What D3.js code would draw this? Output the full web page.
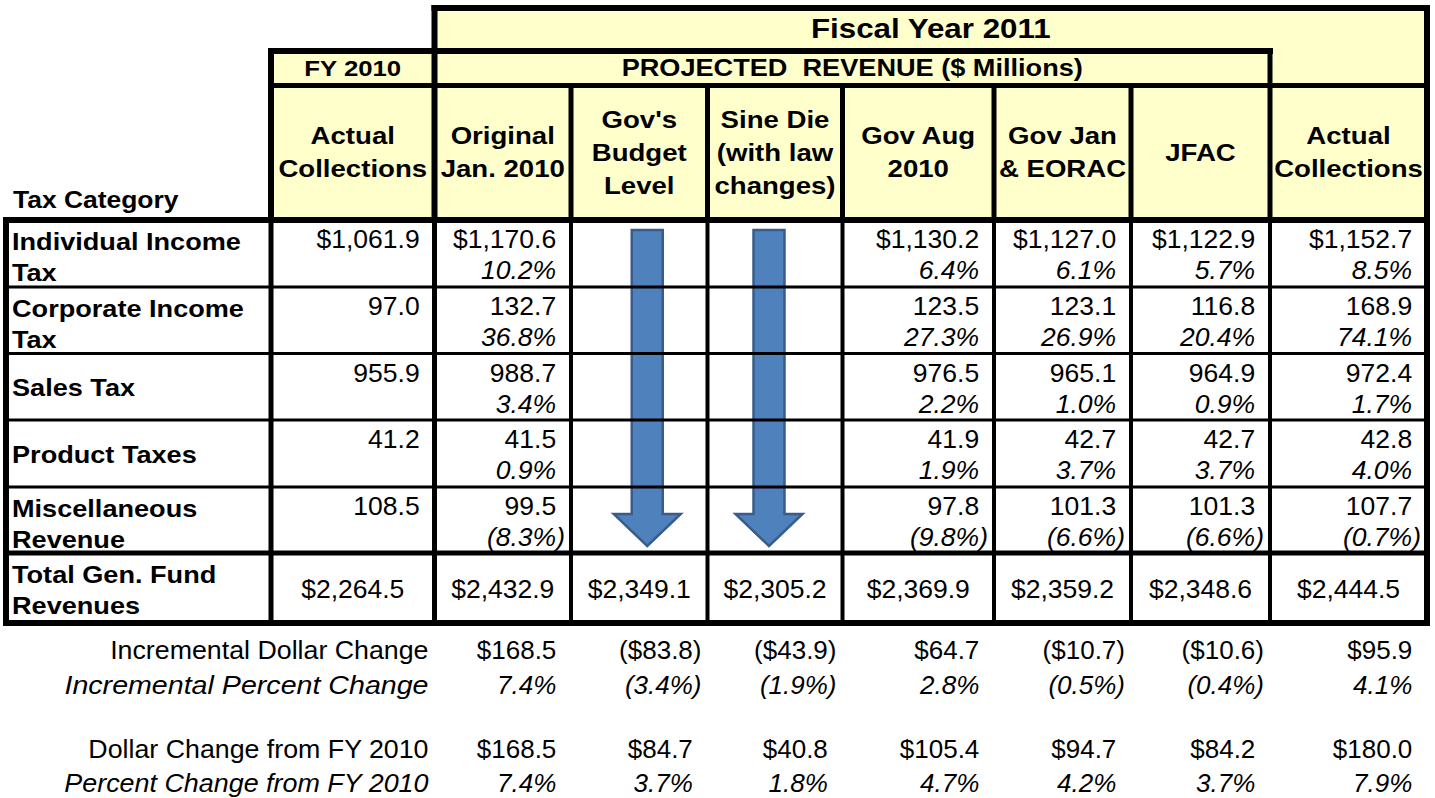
<!DOCTYPE html>
<html>
<head>
<meta charset="utf-8">
<script src="https://cdn.jsdelivr.net/npm/d3@7"></script>
<style>
  body { margin: 0; background: #fff; }
  text { font-family: "Liberation Sans", Arial, sans-serif; fill: #000; }
</style>
</head>
<body>
<div id="chart"></div>
<script>
// columns of the table
const cols = ["fy2010", "orig", "govBudget", "sineDie", "govAug", "govJan", "jfac", "actual"];
const colHeaders = [
  ["Actual", "Collections"], ["Original", "Jan. 2010"], ["Gov's", "Budget", "Level"],
  ["Sine Die", "(with law", "changes)"], ["Gov Aug", "2010"], ["Gov Jan", "& EORAC"],
  ["JFAC"], ["Actual", "Collections"]
];
const categories = [
  ["Individual Income", "Tax"], ["Corporate Income", "Tax"], ["Sales Tax"],
  ["Product Taxes"], ["Miscellaneous", "Revenue"]
];

// values ($ millions) per category
const fy2010Actual = [1061.9, 97.0, 955.9, 41.2, 108.5];
const origJan2010 = [1170.6, 132.7, 988.7, 41.5, 99.5];
const origJan2010Pct = [10.2, 36.8, 3.4, 0.9, -8.3];
const govAug2010 = [1130.2, 123.5, 976.5, 41.9, 97.8];
const govAug2010Pct = [6.4, 27.3, 2.2, 1.9, -9.8];
const govJanEorac = [1127.0, 123.1, 965.1, 42.7, 101.3];
const govJanEoracPct = [6.1, 26.9, 1.0, 3.7, -6.6];
const jfac = [1122.9, 116.8, 964.9, 42.7, 101.3];
const jfacPct = [5.7, 20.4, 0.9, 3.7, -6.6];
const fy2011Actual = [1152.7, 168.9, 972.4, 42.8, 107.7];
const fy2011ActualPct = [8.5, 74.1, 1.7, 4.0, -0.7];

// total general fund revenues, one per column
const totals = [2264.5, 2432.9, 2349.1, 2305.2, 2369.9, 2359.2, 2348.6, 2444.5];

// summary rows (from "orig" column onward)
const incDollar = [168.5, -83.8, -43.9, 64.7, -10.7, -10.6, 95.9];
const incPct = [7.4, -3.4, -1.9, 2.8, -0.5, -0.4, 4.1];
const chgDollar = [168.5, 84.7, 40.8, 105.4, 94.7, 84.2, 180.0];
const chgPct = [7.4, 3.7, 1.8, 4.7, 4.2, 3.7, 7.9];

// columns whose rows are struck through by the down arrows
const arrowCols = ["govBudget", "sineDie"];

const cellValues = {
  fy2010: [fy2010Actual, null],
  orig: [origJan2010, origJan2010Pct],
  govBudget: [null, null],
  sineDie: [null, null],
  govAug: [govAug2010, govAug2010Pct],
  govJan: [govJanEorac, govJanEoracPct],
  jfac: [jfac, jfacPct],
  actual: [fy2011Actual, fy2011ActualPct]
};

// ---- layout ----
const W = 1435, H = 798;
const colEdges = [271, 434.5, 571, 707.5, 842.5, 994, 1131, 1270, 1427];
const rowEdges = [220, 287, 353.5, 420, 487, 553, 623];
const tableLeft = 6;
const yTop = 8, yMid = 51, yHead = 85.5;
const yellow = "#FFFFCC";

const xL = d3.scaleOrdinal().domain(cols).range(colEdges.slice(0, -1));
const xR = d3.scaleOrdinal().domain(cols).range(colEdges.slice(1));
const rowY = d3.scaleOrdinal().domain(d3.range(6)).range(rowEdges.slice(0, -1));
const rowY2 = d3.scaleOrdinal().domain(d3.range(6)).range(rowEdges.slice(1));

const svg = d3.select("#chart").append("svg")
  .attr("width", W).attr("height", H);

const fmtNum = d3.format(",.1f");
function money(v, dollar) {
  const s = (dollar ? "$" : "") + fmtNum(Math.abs(v));
  return v < 0 ? "(" + s + ")" : s;
}
function pct(v) {
  const s = d3.format(".1f")(Math.abs(v)) + "%";
  return v < 0 ? "(" + s + ")" : s;
}

// text styles (size, horizontal stretch)
const HEAD = { bold: true, size: 23, sx: 1.2 };
const LABEL = { bold: true, size: 24, sx: 1.13 };
const DATA = { size: 26, sx: 1.02 };
const SUM = { size: 26, sx: 1.03 };

function txt(x, y, str, o) {
  const t = svg.append("text")
    .attr("transform", `translate(${x},${y}) scale(${o.sx},1)`)
    .attr("text-anchor", o.anchor || "start")
    .style("font-size", o.size + "px")
    .style("font-weight", o.bold ? "bold" : "normal")
    .style("font-style", o.italic ? "italic" : "normal")
    .text(str);
  if (o.pad) t.append("tspan").style("fill-opacity", 0).text(")");
  return t;
}

// ---- yellow header fills ----
svg.append("rect").attr("x", colEdges[0]).attr("y", yMid)
  .attr("width", colEdges[1] - colEdges[0]).attr("height", rowEdges[0] - yMid)
  .attr("fill", yellow);
svg.append("rect").attr("x", colEdges[1]).attr("y", yTop)
  .attr("width", colEdges[8] - colEdges[1]).attr("height", rowEdges[0] - yTop)
  .attr("fill", yellow);

// ---- header texts ----
txt((colEdges[1] + colEdges[8]) / 2, 38, "Fiscal Year 2011", { bold: true, size: 27, sx: 1.16, anchor: "middle" });
txt((colEdges[0] + colEdges[1]) / 2, 76, "FY 2010", { ...HEAD, sx: 1.12, anchor: "middle" });
txt((colEdges[1] + colEdges[7]) / 2, 76, "PROJECTED\u00a0\u00a0REVENUE ($ Millions)", { ...HEAD, sx: 1.18, anchor: "middle" });
txt(13, 208, "Tax Category", { ...HEAD, sx: 1.15 });

cols.forEach((c, i) => {
  const lines = colHeaders[i];
  const cx = (xL(c) + xR(c)) / 2;
  const cy = (yHead + rowEdges[0]) / 2;
  lines.forEach((ln, j) => {
    const y = cy + (j - (lines.length - 1) / 2) * 33 + 8;
    txt(cx, y, ln, { ...HEAD, anchor: "middle" });
  });
});

// ---- category rows ----
categories.forEach((lines, r) => {
  const top = rowY(r), bot = rowY2(r);
  if (lines.length === 2) {
    txt(12, top + 30, lines[0], LABEL);
    txt(12, top + 61, lines[1], LABEL);
  } else {
    txt(12, (top + bot) / 2 + 9, lines[0], LABEL);
  }
  cols.forEach(c => {
    const [vals, pcts] = cellValues[c];
    const xr = xR(c) - 6;
    if (vals) {
      const v = vals[r];
      txt(xr, top + 28, money(v, r === 0), { ...DATA, anchor: "end", pad: v >= 0 });
    }
    if (pcts) {
      const p = pcts[r];
      txt(xr, top + 59, pct(p), { ...DATA, anchor: "end", italic: true, pad: p >= 0 });
    }
  });
});

// total row
txt(12, rowY(5) + 30, "Total Gen. Fund", LABEL);
txt(12, rowY(5) + 61, "Revenues", LABEL);
cols.forEach((c, i) => {
  txt((xL(c) + xR(c)) / 2, (rowY(5) + rowY2(5)) / 2 + 10, money(totals[i], true), { ...DATA, anchor: "middle" });
});

// ---- summary rows below the table ----
const summary = [
  { label: "Incremental Dollar Change", vals: incDollar, f: v => money(v, true), it: false, sx: 1.03, y: 659 },
  { label: "Incremental Percent Change", vals: incPct, f: pct, it: true, sx: 1.1, y: 694 },
  { label: "Dollar Change from FY 2010", vals: chgDollar, f: v => money(v, true), it: false, sx: 1.03, y: 758 },
  { label: "Percent Change from FY 2010", vals: chgPct, f: pct, it: true, sx: 1.035, y: 792 }
];
summary.forEach(s => {
  const st = { ...SUM, italic: s.it };
  txt(colEdges[1] - 6, s.y, s.label, { ...st, sx: s.sx, anchor: "end" });
  cols.slice(1).forEach((c, i) => {
    const v = s.vals[i];
    txt(xR(c) - 6, s.y, s.f(v), { ...st, sx: 1, anchor: "end", pad: v >= 0 });
  });
});

// ---- arrows ----
arrowCols.forEach((c, i) => {
  const cx = (xL(c) + xR(c)) / 2 + (i === 0 ? 8 : -6);
  const y0 = rowY(0) + 10, yh = rowY(4) + 27, yt = rowY(5) - 7;
  const sw = 15.5, hw = 33.5;
  const pts = [[cx - sw, y0], [cx + sw, y0], [cx + sw, yh], [cx + hw, yh], [cx, yt], [cx - hw, yh], [cx - sw, yh]];
  svg.append("path")
    .attr("d", d3.line()(pts) + "Z")
    .attr("fill", "#4F81BD")
    .attr("stroke", "#385D8A")
    .attr("stroke-width", 2.5)
    .attr("stroke-linejoin", "miter");
});

// ---- grid lines ----
function hline(x1, x2, y, w) {
  svg.append("line").attr("x1", x1).attr("x2", x2).attr("y1", y).attr("y2", y)
    .attr("stroke", "#000").attr("stroke-width", w).attr("stroke-linecap", "square");
}
function vline(x, y1, y2, w) {
  svg.append("line").attr("x1", x).attr("x2", x).attr("y1", y1).attr("y2", y2)
    .attr("stroke", "#000").attr("stroke-width", w).attr("stroke-linecap", "square");
}

// header frame
hline(colEdges[1], colEdges[8], yTop, 6);
hline(colEdges[0], colEdges[7], yMid, 6);
hline(colEdges[0], colEdges[8], yHead, 5);
hline(tableLeft, colEdges[8], rowEdges[0], 6);
vline(colEdges[0], yMid, rowEdges[0], 6);
vline(colEdges[1], yTop, rowEdges[0], 6);
colEdges.slice(2, 7).forEach(x => vline(x, yHead, rowEdges[0], 5));
vline(colEdges[7], yMid, rowEdges[0], 5);
vline(colEdges[8], yTop, rowEdges[0], 6);

// body
rowEdges.slice(1, 5).forEach(y => hline(tableLeft, colEdges[8], y, 3));
hline(tableLeft, colEdges[8], rowEdges[5], 5);
hline(tableLeft, colEdges[8], rowEdges[6], 6);
vline(tableLeft, rowEdges[0], rowEdges[6], 6);
vline(colEdges[0], rowEdges[0], rowEdges[6], 5);
vline(colEdges[1], rowEdges[0], rowEdges[6], 5);
colEdges.slice(2, 8).forEach(x => vline(x, rowEdges[0], rowEdges[6], 4));
vline(colEdges[8], rowEdges[0], rowEdges[6], 6);
</script>
</body>
</html>
